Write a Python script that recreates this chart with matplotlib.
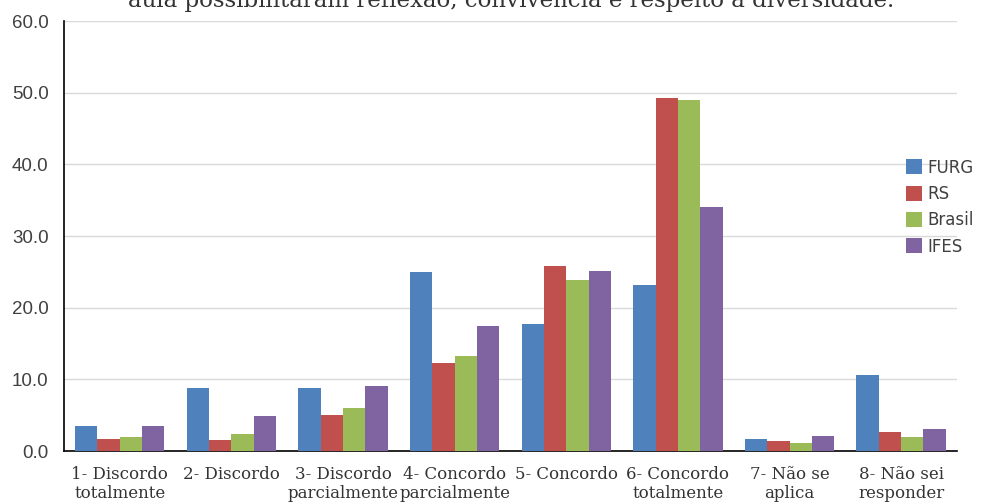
import numpy as np
import matplotlib
matplotlib.use('Agg')
import matplotlib.pyplot as plt

# Data
categories = ['1- Discordo\ntotalmente', '2- Discordo', '3- Discordo\nparcialmente',
              '4- Concordo\nparcialmente', '5- Concordo', '6- Concordo\ntotalmente',
              '7- Não se\naplica', '8- Não sei\nresponder']
furg = [3.5, 8.8, 8.8, 25.0, 17.8, 23.2, 1.7, 10.6]
rs = [1.7, 1.5, 5.0, 12.3, 25.9, 49.3, 1.4, 2.6]
brasil = [2.0, 2.4, 6.0, 13.3, 23.9, 49.0, 1.1, 2.0]
ifes = [3.5, 4.9, 9.1, 17.4, 25.2, 34.1, 2.1, 3.1]
series = [('FURG', furg, '#4F81BD'), ('RS', rs, '#C0504D'),
          ('Brasil', brasil, '#9BBB59'), ('IFES', ifes, '#8064A2')]
title = 'aula possibilitaram reflexão, convivência e respeito à diversidade.'

fig = plt.figure(figsize=(9.84, 5.04), dpi=100)
ax = fig.add_axes([0.065, 0.105, 0.9075, 0.853])

x = np.arange(len(categories))
w = 0.2
for i, (name, vals, col) in enumerate(series):
    ax.bar(x + (i - 1.5) * w, vals, w, color=col, label=name, zorder=3)

ax.set_xlim(-0.5, len(categories) - 0.5)
ax.set_ylim(0, 60)
ax.set_yticks(np.arange(0, 61, 10))
ax.set_yticklabels(['%.1f' % v for v in np.arange(0, 61, 10)],
                   fontsize=13.5, family='Liberation Sans', color='#404040')
ax.yaxis.grid(True, color='#d9d9d9', linewidth=1, zorder=0)
ax.set_xticks(x)
ax.set_xticklabels(categories, fontsize=12, family='DejaVu Serif',
                   color='#333333', linespacing=1.1)
ax.tick_params(axis='y', length=0, pad=11)
ax.tick_params(axis='x', length=0, pad=11)
for s in ['top', 'right']:
    ax.spines[s].set_visible(False)
ax.spines['left'].set_color('black')
ax.spines['bottom'].set_color('black')
ax.spines['left'].set_linewidth(1.2)
ax.spines['bottom'].set_linewidth(1.2)

fig.legend(loc='center left', bbox_to_anchor=(0.912, 0.589), frameon=False,
           borderpad=0, fontsize=12, handlelength=1.0, handleheight=1.0,
           handletextpad=0.3, labelspacing=0.5, labelcolor='#404040')

# title is cut off by the top edge in the original picture
fig.text(0.519, 0.987, title, ha='center', va='baseline', fontsize=16.5,
         family='DejaVu Serif', color='#333333')

fig.savefig('out.png', dpi=100)
